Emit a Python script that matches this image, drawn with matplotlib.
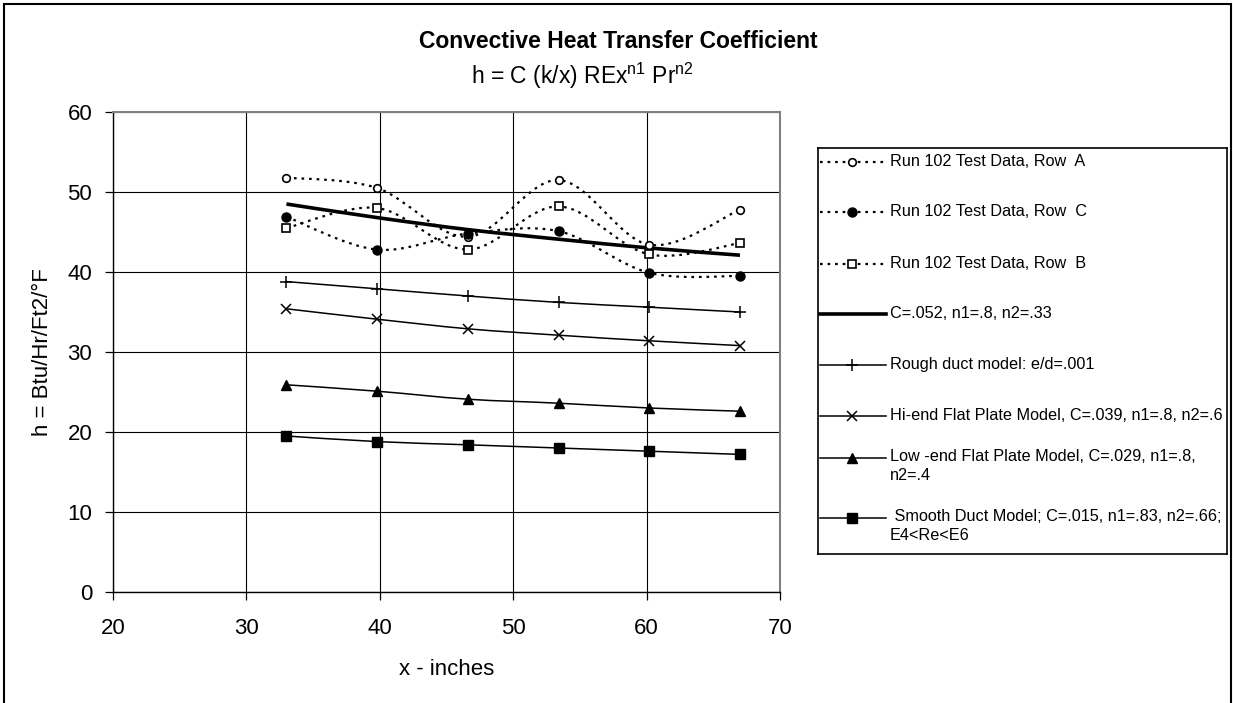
import numpy as np
import matplotlib
matplotlib.use("Agg")
import matplotlib.pyplot as plt
from matplotlib.path import Path
from matplotlib.patches import PathPatch, Rectangle

plt.rcParams['font.family'] = ['Liberation Sans', 'DejaVu Sans']
plt.rcParams['mathtext.fontset'] = 'custom'
plt.rcParams['mathtext.rm'] = 'Liberation Sans'

# data
x = [33.0, 39.8, 46.6, 53.4, 60.2, 67.0]
row_a = [51.8, 50.5, 44.4, 51.5, 43.4, 47.8]
row_c = [46.9, 42.8, 44.8, 45.1, 39.9, 39.5]
row_b = [45.5, 48.0, 42.8, 48.2, 42.2, 43.6]
fit_052 = [48.5, 46.8, 45.3, 44.1, 43.0, 42.1]
rough_duct = [38.8, 37.9, 37.0, 36.2, 35.6, 35.0]
hi_flat = [35.4, 34.1, 32.9, 32.1, 31.4, 30.8]
low_flat = [25.9, 25.1, 24.1, 23.6, 23.0, 22.6]
smooth_duct = [19.5, 18.8, 18.4, 18.0, 17.6, 17.2]

labels = ["Run 102 Test Data, Row  A",
          "Run 102 Test Data, Row  C",
          "Run 102 Test Data, Row  B",
          "C=.052, n1=.8, n2=.33",
          "Rough duct model: e/d=.001",
          "Hi-end Flat Plate Model, C=.039, n1=.8, n2=.6",
          "Low -end Flat Plate Model, C=.029, n1=.8,\nn2=.4",
          " Smooth Duct Model; C=.015, n1=.83, n2=.66;\nE4<Re<E6"]


def smooth_path(xs, ys):
    # Excel-style smoothed line: Catmull-Rom as cubic Bezier segments
    pts = np.column_stack([xs, ys])
    verts = [pts[0]]
    codes = [Path.MOVETO]
    n = len(pts)
    for i in range(n - 1):
        p0 = pts[max(i - 1, 0)]
        p1 = pts[i]
        p2 = pts[i + 1]
        p3 = pts[min(i + 2, n - 1)]
        verts += [p1 + (p2 - p0) / 6, p2 - (p3 - p1) / 6, p2]
        codes += [Path.CURVE4] * 3
    return Path(verts, codes)


W, H = 1233, 703
fig = plt.figure(figsize=(W / 100, H / 100), dpi=100)
ax = fig.add_axes([113 / W, 1 - 592 / H, (780 - 113) / W, (592 - 112) / H])

dots = (0, (1.2, 2.2))
series = [
    (row_a, dict(ls=dots, lw=1.6), dict(marker='o', ms=5.5, mfc='white', mec='black', mew=1.2)),
    (row_c, dict(ls=dots, lw=1.6), dict(marker='o', ms=6.5, mfc='black', mec='black')),
    (row_b, dict(ls=dots, lw=1.6), dict(marker='s', ms=5.5, mfc='white', mec='black', mew=1.2)),
    (fit_052, dict(ls='-', lw=2.6), None),
    (rough_duct, dict(ls='-', lw=1.1), dict(marker='+', ms=9, mec='black', mew=1.1)),
    (hi_flat, dict(ls='-', lw=1.1), dict(marker='x', ms=7, mec='black', mew=1.1)),
    (low_flat, dict(ls='-', lw=1.1), dict(marker='^', ms=7.5, mfc='black', mec='black')),
    (smooth_duct, dict(ls='-', lw=1.1), dict(marker='s', ms=6.5, mfc='black', mec='black')),
]

for ys, lstyle, mstyle in series:
    patch = PathPatch(smooth_path(x, ys), fill=False, edgecolor='black',
                      linestyle=lstyle['ls'], linewidth=lstyle['lw'], zorder=3)
    ax.add_patch(patch)
    if mstyle:
        ax.plot(x, ys, linestyle='none', zorder=4, **mstyle)

ax.set_xlim(20, 70)
ax.set_ylim(0, 60)
ax.set_xticks(range(20, 71, 10))
ax.set_yticks(range(0, 61, 10))
ax.grid(True, color='black', lw=0.8)
ax.set_axisbelow(True)
ax.tick_params(direction='out', length=6, width=0.9, labelsize=16, colors='black')
ax.tick_params(axis='x', pad=13)
ax.tick_params(axis='y', pad=9)
for s in ['left', 'bottom']:
    ax.spines[s].set_color('black')
    ax.spines[s].set_linewidth(1.0)
for s in ['top', 'right']:
    ax.spines[s].set_color('#808080')
    ax.spines[s].set_linewidth(1.5)

ax.set_xlabel("x - inches", fontsize=16, labelpad=14)
ax.set_ylabel("h = Btu/Hr/Ft2/°F", fontsize=16, labelpad=10)

fig.text(618 / W, 1 - 48 / H, "Convective Heat Transfer Coefficient",
         ha='center', va='baseline', fontsize=16.5, fontweight='bold')
fig.text(582 / W, 1 - 84 / H, r"h = C (k/x) REx$^{\mathrm{n1}}$ Pr$^{\mathrm{n2}}$",
         ha='center', va='baseline', fontsize=16.5)

# legend drawn by hand so the wrapped entries keep Excel's spacing
lg = fig.add_axes([818 / W, 1 - 554 / H, (1227 - 818) / W, (554 - 148) / H])
lg.set_xlim(818, 1227)
lg.set_ylim(554, 148)
lg.set_xticks([])
lg.set_yticks([])
for s in lg.spines.values():
    s.set_color('black')
    s.set_linewidth(1.2)

entry_y = [162, 212, 264, 314, 365, 416, 458, 518]
for (ys, lstyle, mstyle), lab, yy in zip(series, labels, entry_y):
    lg.plot([820, 886], [yy, yy], color='black', linestyle=lstyle['ls'],
            linewidth=lstyle['lw'])
    if mstyle:
        lg.plot([852], [yy], linestyle='none', **mstyle)
    if "\n" in lab:
        lg.text(890, yy - 9, lab, ha='left', va='top', fontsize=11.7, linespacing=1.35)
    else:
        lg.text(890, yy, lab, ha='left', va='center', fontsize=11.7)

fig.patches.append(Rectangle((4 / W, -0.02), (1231 - 4) / W, 1.02 - 4 / H,
                             transform=fig.transFigure, fill=False,
                             edgecolor='black', linewidth=1.5))

fig.savefig("out.png", dpi=100)
